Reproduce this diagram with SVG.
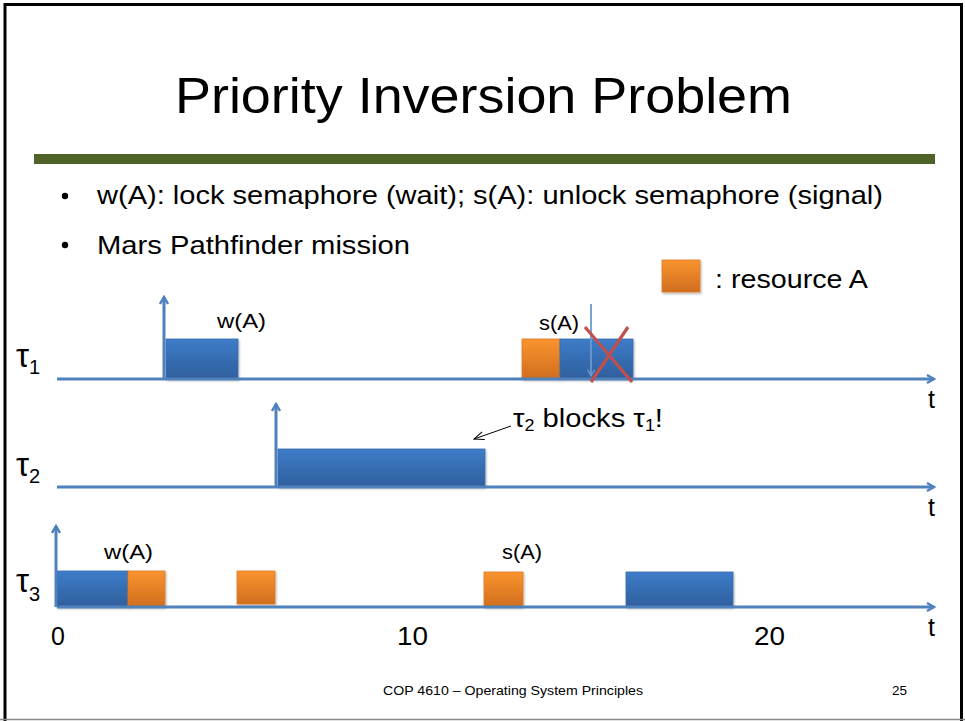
<svg xmlns="http://www.w3.org/2000/svg" width="965" height="721" viewBox="0 0 965 721">
  <style>
    text { font-family: "Liberation Sans", Arial, sans-serif; fill: #000; }
    .title { font-size: 50px; }
    .body { font-size: 25px; }
    .lbl { font-size: 21px; }
    .tau { font-size: 33px; }
    .sub { font-size: 20px; }
    .num { font-size: 25px; }
    .foot { font-size: 13px; }
    .axis { stroke: #4F81BD; stroke-width: 3; fill: none; }
    .job { fill: url(#blueGrad); stroke: #3A6DAE; stroke-width: 0.8; filter: url(#shadow); }
    .res { fill: url(#orangeGrad); stroke: #E0782A; stroke-width: 0.8; filter: url(#shadow); }
  </style>
  <defs>
    <linearGradient id="blueGrad" x1="0" y1="0" x2="0" y2="1">
      <stop offset="0" stop-color="#3D7CC9"/>
      <stop offset="1" stop-color="#2F5F9C"/>
    </linearGradient>
    <linearGradient id="orangeGrad" x1="0" y1="0" x2="0" y2="1">
      <stop offset="0" stop-color="#FA942F"/>
      <stop offset="1" stop-color="#D06D1E"/>
    </linearGradient>
    <filter id="shadow" x="-10%" y="-10%" width="130%" height="130%">
      <feDropShadow dx="1" dy="1.5" stdDeviation="1" flood-color="#000" flood-opacity="0.3"/>
    </filter>
    <marker id="chev" viewBox="0 0 10 10" refX="8" refY="5" markerWidth="10" markerHeight="10" markerUnits="userSpaceOnUse" orient="auto">
      <path d="M1,1 L8,5 L1,9" fill="none" stroke="#4F81BD" stroke-width="2.4"/>
    </marker>
    <marker id="chevThin" viewBox="0 0 10 10" refX="8" refY="5" markerWidth="9" markerHeight="9" markerUnits="userSpaceOnUse" orient="auto">
      <path d="M1,1 L8,5 L1,9" fill="none" stroke="#6C98CE" stroke-width="1.5"/>
    </marker>
    <marker id="openBlack" viewBox="0 0 12 10" refX="11" refY="5" markerWidth="12" markerHeight="10" markerUnits="userSpaceOnUse" orient="auto">
      <path d="M1,1 L11,5 L1,9" fill="none" stroke="#000" stroke-width="1"/>
    </marker>
  </defs>

  <!-- slide frame -->
  <rect x="0" y="0" width="965" height="721" fill="#fff"/>
  <rect x="5" y="4.5" width="956.5" height="720" fill="none" stroke="#000" stroke-width="3"/>
  <line x1="0" y1="719.5" x2="965" y2="719.5" stroke="#888" stroke-width="1.5"/>

  <!-- heading -->
  <g id="heading">
    <text class="title" x="175" y="113" textLength="617" lengthAdjust="spacingAndGlyphs">Priority Inversion Problem</text>
    <rect x="34" y="154" width="901" height="10" fill="#4F6228"/>
  </g>

  <!-- bullet points -->
  <g id="bullets">
    <circle cx="65" cy="196" r="3.2" fill="#000"/>
    <text class="body" x="97" y="204" textLength="786" lengthAdjust="spacingAndGlyphs">w(A): lock semaphore (wait); s(A): unlock semaphore (signal)</text>
    <circle cx="65" cy="245" r="3.2" fill="#000"/>
    <text class="body" x="97" y="254" textLength="313" lengthAdjust="spacingAndGlyphs">Mars Pathfinder mission</text>
  </g>

  <!-- legend -->
  <g id="legend">
    <rect class="res" x="662" y="260" width="38" height="32"/>
    <text class="body" x="715" y="288" textLength="153" lengthAdjust="spacingAndGlyphs">: resource A</text>
  </g>

  <!-- task tau1 -->
  <g id="task1">
    <text class="tau" x="16" y="367">τ<tspan class="sub" dy="7">1</tspan></text>
    <rect class="job" x="166" y="339" width="72" height="40"/>
    <text class="lbl" x="217" y="328" textLength="49" lengthAdjust="spacingAndGlyphs">w(A)</text>
    <rect class="res" x="522" y="339" width="38" height="40"/>
    <rect class="job" x="560" y="339" width="73" height="40"/>
    <text class="lbl" x="539" y="330" textLength="40" lengthAdjust="spacingAndGlyphs">s(A)</text>
    <text class="num" x="928" y="408">t</text>
  </g>

  <!-- task tau2 -->
  <g id="task2">
    <text class="tau" x="16" y="476">τ<tspan class="sub" dy="7">2</tspan></text>
    <rect class="job" x="278" y="449" width="207" height="38"/>
    <text x="513" y="427" font-size="26" textLength="150" lengthAdjust="spacingAndGlyphs">τ<tspan font-size="16" dy="4">2</tspan><tspan dy="-4"> blocks τ</tspan><tspan font-size="16" dy="4">1</tspan><tspan dy="-4">!</tspan></text>
    <text class="num" x="928" y="516">t</text>
  </g>

  <!-- task tau3 -->
  <g id="task3">
    <text class="tau" x="16" y="592">τ<tspan class="sub" dy="9">3</tspan></text>
    <rect class="job" x="57" y="571" width="71" height="36"/>
    <rect class="res" x="128" y="571" width="37" height="36"/>
    <rect class="res" x="237" y="571" width="38" height="33"/>
    <rect class="res" x="484" y="572" width="39" height="35"/>
    <rect class="job" x="626" y="572" width="107" height="35"/>
    <text class="lbl" x="104" y="559" textLength="49" lengthAdjust="spacingAndGlyphs">w(A)</text>
    <text class="lbl" x="502" y="559" textLength="40" lengthAdjust="spacingAndGlyphs">s(A)</text>
    <text class="num" x="928" y="636">t</text>
  </g>

  <!-- timeline connectors: axes, release arrows, request arrow and callout -->
  <g id="connectors">
    <line class="axis" x1="57" y1="379" x2="934" y2="379" marker-end="url(#chev)"/>
    <line class="axis" x1="57" y1="487" x2="934" y2="487" marker-end="url(#chev)"/>
    <line class="axis" x1="57" y1="607" x2="934" y2="607" marker-end="url(#chev)"/>
    <line class="axis" x1="164" y1="379" x2="164" y2="297" marker-end="url(#chev)"/>
    <line class="axis" x1="276" y1="487" x2="276" y2="404" marker-end="url(#chev)"/>
    <line class="axis" x1="56" y1="607" x2="56" y2="526" marker-end="url(#chev)"/>
    <line x1="591" y1="304" x2="591" y2="376" stroke="#6C98CE" stroke-width="1.8" marker-end="url(#chevThin)"/>
    <line x1="511" y1="426" x2="474" y2="439" stroke="#000" stroke-width="1" marker-end="url(#openBlack)"/>
  </g>

  <!-- cancelled execution of tau1 -->
  <g id="cancel" stroke="#C0504D" stroke-width="3.2" stroke-linecap="butt">
    <line x1="585" y1="327" x2="632" y2="382"/>
    <line x1="628" y1="327" x2="591" y2="382"/>
  </g>

  <!-- time scale -->
  <g id="scale">
    <text class="num" x="51" y="645">0</text>
    <text class="num" x="397" y="645" textLength="31" lengthAdjust="spacingAndGlyphs">10</text>
    <text class="num" x="754" y="645" textLength="31" lengthAdjust="spacingAndGlyphs">20</text>
  </g>

  <!-- footer -->
  <g id="footer">
    <text class="foot" x="383" y="695" textLength="260" lengthAdjust="spacingAndGlyphs">COP 4610 – Operating System Principles</text>
    <text class="foot" x="892" y="695" textLength="15" lengthAdjust="spacingAndGlyphs">25</text>
  </g>
</svg>
